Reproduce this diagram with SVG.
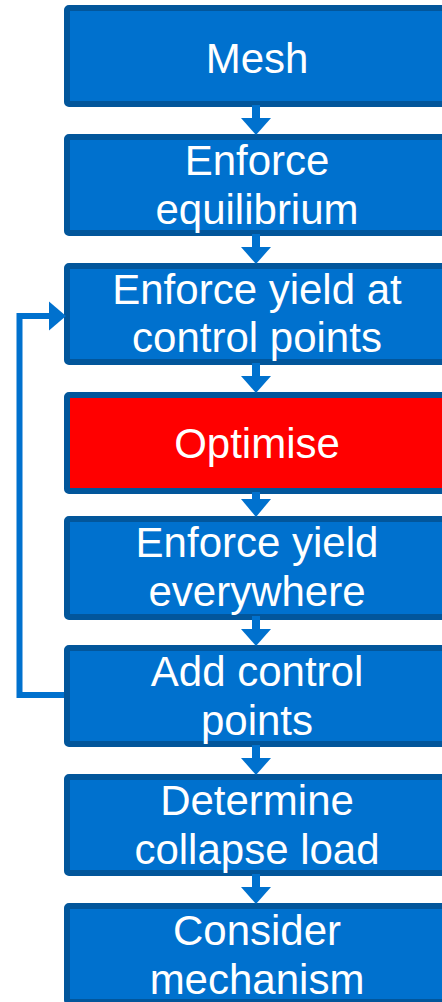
<svg xmlns="http://www.w3.org/2000/svg" width="442" height="1002" viewBox="0 0 442 1002">
<style>
.box{fill:#0071CE;stroke:#02569B;stroke-width:6}
.red{fill:#FF0000}
.t{font-family:"Liberation Sans",Arial,sans-serif;font-size:42px;fill:#FFFFFF;text-anchor:middle}
.ar{fill:#0071CE}
.ln{fill:none;stroke:#0071CE;stroke-width:6}
</style>
<rect x="0" y="0" width="442" height="1002" fill="#FFFFFF"/>
<g id="node-mesh"><rect class="box" x="67" y="8" width="386" height="96" rx="2"/></g>
<g id="node-equilibrium"><rect class="box" x="67" y="137" width="386" height="96" rx="2"/></g>
<g id="node-yield-control"><rect class="box" x="67" y="266" width="386" height="96" rx="2"/></g>
<g id="node-optimise"><rect class="box red" x="67" y="395" width="386" height="96" rx="2"/></g>
<g id="node-yield-everywhere"><rect class="box" x="67" y="519" width="386" height="98" rx="2"/></g>
<g id="node-add-control"><rect class="box" x="67" y="648" width="386" height="96" rx="2"/></g>
<g id="node-collapse"><rect class="box" x="67" y="777" width="386" height="96" rx="2"/></g>
<g id="node-mechanism"><rect class="box" x="67" y="906" width="386" height="96" rx="2"/></g>
<g id="connectors">
<rect class="ar" x="252" y="105" width="8" height="14"/><polygon class="ar" points="241,118 271,118 256,135"/>
<rect class="ar" x="252" y="234" width="8" height="14"/><polygon class="ar" points="241,247 271,247 256,264"/>
<rect class="ar" x="252" y="363" width="8" height="14"/><polygon class="ar" points="241,376 271,376 256,393"/>
<rect class="ar" x="252" y="492" width="8" height="8"/><polygon class="ar" points="241,499 271,499 256,517"/>
<rect class="ar" x="252" y="616" width="8" height="14"/><polygon class="ar" points="241,629 271,629 256,646"/>
<rect class="ar" x="252" y="745" width="8" height="14"/><polygon class="ar" points="241,758 271,758 256,775"/>
<rect class="ar" x="252" y="874" width="8" height="14"/><polygon class="ar" points="241,887 271,887 256,904"/>
<polyline class="ln" points="64,695 19.5,695 19.5,316 50,316"/>
<polygon class="ar" points="49,301.5 66,316 49,330.5"/>
</g>
<g id="labels">
<text class="t" x="257" y="73">Mesh</text>
<text class="t" x="257" y="175">Enforce</text>
<text class="t" x="257" y="224">equilibrium</text>
<text class="t" x="257" y="304">Enforce yield at</text>
<text class="t" x="257" y="352">control points</text>
<text class="t" x="257" y="458">Optimise</text>
<text class="t" x="257" y="557">Enforce yield</text>
<text class="t" x="257" y="606">everywhere</text>
<text class="t" x="257" y="686">Add control</text>
<text class="t" x="257" y="735">points</text>
<text class="t" x="257" y="815">Determine</text>
<text class="t" x="257" y="864">collapse load</text>
<text class="t" x="257" y="945">Consider</text>
<text class="t" x="257" y="994">mechanism</text>
</g>
</svg>
